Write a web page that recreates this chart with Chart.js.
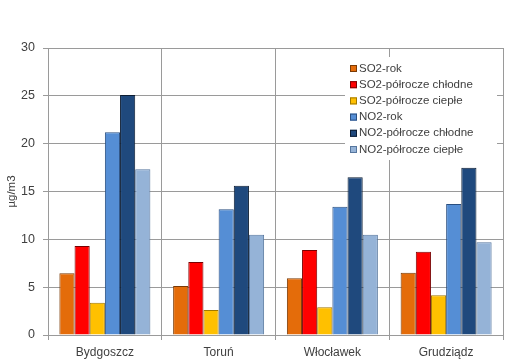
<!DOCTYPE html>
<html>
<head>
<meta charset="utf-8">
<script src="https://cdn.jsdelivr.net/npm/chart.js@4/dist/chart.umd.min.js"></script>
<style>
  html, body { margin: 0; padding: 0; background: #fff; }
  #wrap { width: 515px; height: 361px; }
</style>
</head>
<body>
<div id="wrap"><canvas id="chart" width="515" height="361"></canvas></div>
<script>
const cities = ["Bydgoszcz", "Toruń", "Włocławek", "Grudziądz"];
const seriesNames = ["SO2-rok", "SO2-półrocze chłodne", "SO2-półrocze ciepłe", "NO2-rok", "NO2-półrocze chłodne", "NO2-półrocze ciepłe"];
const so2Year = [6.45, 5.12, 5.93, 6.51];
const so2Cold = [9.3, 7.63, 8.88, 8.71];
const so2Warm = [3.38, 2.61, 2.9, 4.15];
const no2Year = [21.19, 13.14, 13.41, 13.69];
const no2Cold = [25.09, 15.6, 16.48, 17.49];
const no2Warm = [17.32, 10.48, 10.48, 9.69];
const yTicks = [0, 5, 10, 15, 20, 25, 30];

const fills = ["#E46C0A", "#FF0000", "#FFC000", "#558ED5", "#1F497D", "#95B3D7"];
const borders = ["#7a3a05", "#7a0000", "#a07800", "#2a4f80", "#0c1d33", "#56769e"];
const allValues = [so2Year, so2Cold, so2Warm, no2Year, no2Cold, no2Warm];

const textColor = "#404040";
const gridColor = "#9a9a9a";
const fontFamily = "'Liberation Sans', Arial, sans-serif";

// legend sits inside the plot on a white box, like the Excel original
const legendBox = {
  id: "legendBox",
  afterDraw(chart) {
    const ctx = chart.ctx;
    ctx.save();
    ctx.fillStyle = "#fff";
    ctx.fillRect(345, 57, 152, 103);
    ctx.font = "11.5px " + fontFamily;
    ctx.textBaseline = "middle";
    chart.data.datasets.forEach((ds, i) => {
      const y = 68.5 + i * 16.2;
      ctx.fillStyle = ds.backgroundColor;
      ctx.fillRect(350, y - 3.5, 7, 7);
      ctx.strokeStyle = ds.borderColor;
      ctx.lineWidth = 1;
      ctx.strokeRect(350.5, y - 3, 6, 6);
      ctx.fillStyle = textColor;
      ctx.fillText(ds.label, 359, y);
    });
    ctx.restore();
  }
};

new Chart(document.getElementById("chart"), {
  type: "bar",
  data: {
    labels: cities,
    datasets: seriesNames.map((name, i) => ({
      label: name,
      data: allValues[i],
      backgroundColor: fills[i],
      borderColor: borders[i],
      borderWidth: 1,
      categoryPercentage: 0.8,
      barPercentage: 1.0
    }))
  },
  options: {
    responsive: false,
    animation: false,
    layout: { padding: { top: 48, right: 12, left: 0, bottom: 0 } },
    plugins: {
      legend: { display: false },
      tooltip: { enabled: false }
    },
    scales: {
      x: {
        grid: { color: gridColor, tickLength: 5, offset: true },
        border: { color: gridColor },
        ticks: { color: textColor, font: { family: fontFamily, size: 12 }, padding: 5 },
        afterFit(scale) { scale.height = 26; }
      },
      y: {
        min: 0,
        max: 30,
        afterBuildTicks(scale) { scale.ticks = yTicks.map(v => ({ value: v })); },
        grid: { color: gridColor, tickLength: 5 },
        border: { color: gridColor },
        ticks: { color: textColor, font: { family: fontFamily, size: 12.5 }, padding: 8 },
        title: { display: true, text: "µg/m3", color: textColor, font: { family: fontFamily, size: 11.5 }, padding: { top: 5, bottom: 0 } },
        afterFit(scale) { scale.width = 48; }
      }
    }
  },
  plugins: [legendBox]
});
</script>
</body>
</html>
